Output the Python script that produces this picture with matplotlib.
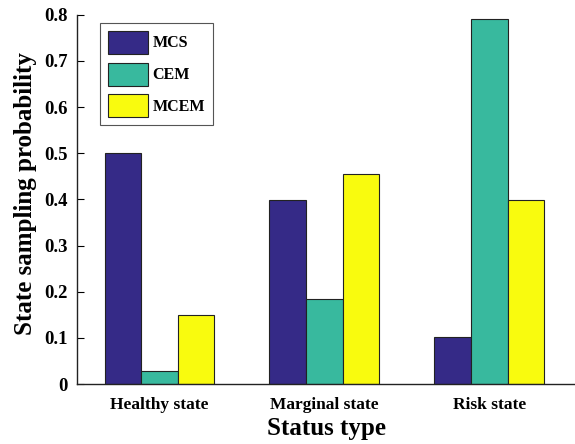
import matplotlib
matplotlib.use("Agg")
import matplotlib.pyplot as plt
import numpy as np

categories = ["Healthy state", "Marginal state", "Risk state"]
series_names = ["MCS", "CEM", "MCEM"]
mcs = [0.500, 0.399, 0.102]
cem = [0.028, 0.184, 0.791]
mcem = [0.150, 0.454, 0.399]
colors = ["#352a87", "#38b99e", "#f9fb0e"]
yticks = [0, 0.1, 0.2, 0.3, 0.4, 0.5, 0.6, 0.7, 0.8]
ytick_labels = ["0", "0.1", "0.2", "0.3", "0.4", "0.5", "0.6", "0.7", "0.8"]

plt.rcParams['font.family'] = ['Liberation Serif', 'DejaVu Serif']
plt.rcParams['font.weight'] = 'bold'

fig = plt.figure(figsize=(5.75, 4.44), dpi=100)
ax = fig.add_axes([0.134, 0.135, 0.866, 0.832])

x = np.arange(1, len(categories) + 1)
w = 0.222
for i, (vals, name, c) in enumerate(zip([mcs, cem, mcem], series_names, colors)):
    ax.bar(x + (i - 1) * w, vals, width=w, color=c, edgecolor="#222222",
           linewidth=0.8, label=name)

ax.set_xlim(0.5, 3.52)
ax.set_ylim(0, 0.8)
ax.set_xticks(x)
ax.set_xticklabels(categories, fontsize=12.5, fontweight='bold')
ax.set_yticks(yticks)
ax.set_yticklabels(ytick_labels, fontsize=13.5, fontweight='bold')
ax.tick_params(axis='y', direction='in', length=5, width=0.8, pad=6.5)
ax.tick_params(axis='x', length=0, pad=9)
for s in ['top', 'right']:
    ax.spines[s].set_visible(False)
for s in ['left', 'bottom']:
    ax.spines[s].set_linewidth(1.0)
    ax.spines[s].set_color('#222222')

ax.set_ylabel("State sampling probability", fontsize=18, fontweight='bold')
ax.yaxis.set_label_coords(-0.080, 0.515)
ax.set_xlabel("Status type", fontsize=18, fontweight='bold', labelpad=3.5)

leg = ax.legend(loc='upper left', bbox_to_anchor=(0.046, 0.978), borderaxespad=0,
                handlelength=2.5, handleheight=1.84, labelspacing=0.55,
                handletextpad=0.3, borderpad=0.5, fancybox=False, framealpha=1,
                edgecolor='#555555', prop={'weight': 'bold', 'size': 11.5})
leg.get_frame().set_linewidth(0.8)

fig.savefig("out.png", dpi=100)
